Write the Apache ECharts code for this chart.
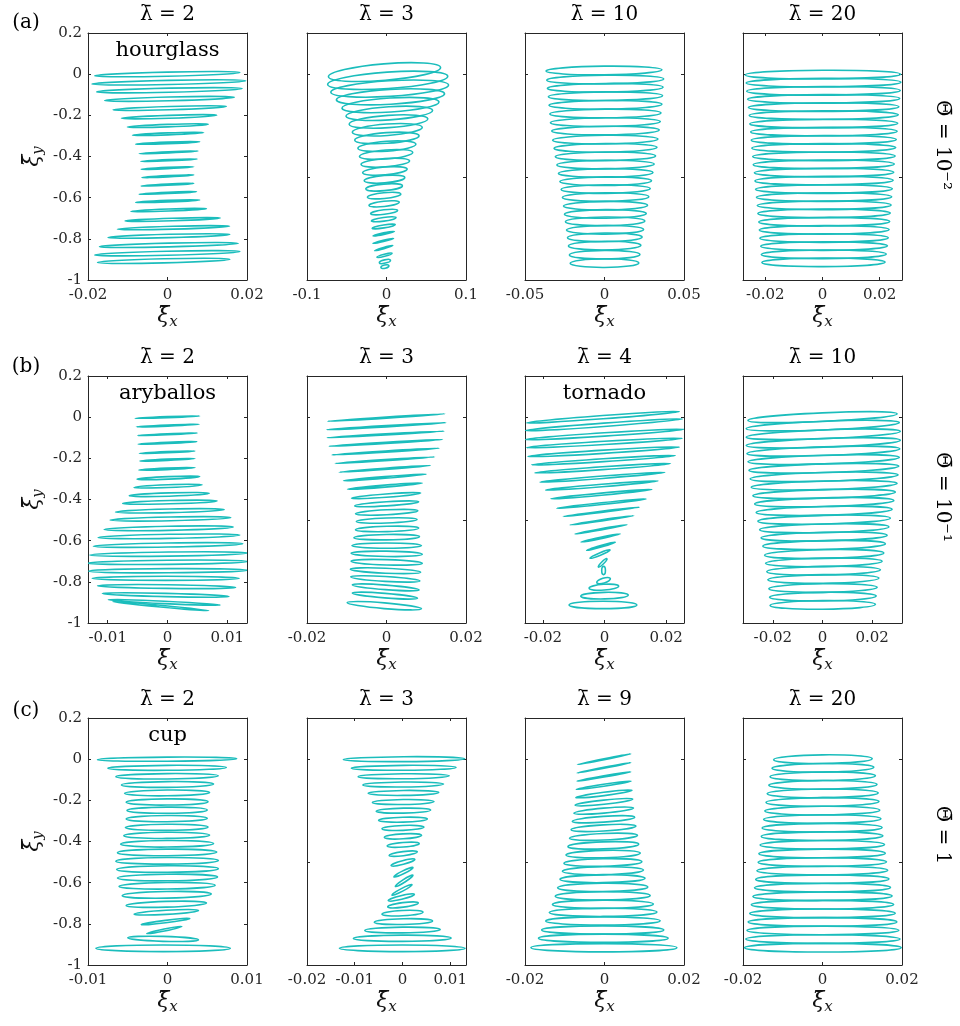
<!DOCTYPE html>
<html><head><meta charset="utf-8">
<script src="https://cdn.jsdelivr.net/npm/echarts@6/dist/echarts.min.js"></script>
<style>html,body{margin:0;padding:0;background:#fff}#c{width:960px;height:1026px}</style>
</head><body><div id="c"></div>
<script>
// Each loop: [yCenter, xLeft, xRight, halfHeight, tilt(yRight - yLeft)]
const a1 = [
[0.000,-0.0183,0.0182,0.010,0.016],[-0.040,-0.0190,0.0197,0.010,0.016],[-0.078,-0.0178,0.0188,0.010,0.016],
[-0.120,-0.0158,0.0168,0.009,0.016],[-0.165,-0.0137,0.0148,0.008,0.016],[-0.207,-0.0116,0.0124,0.007,0.015],
[-0.250,-0.0101,0.0103,0.006,0.014],[-0.290,-0.0088,0.0091,0.005,0.013],[-0.334,-0.0080,0.0081,0.004,0.012],
[-0.380,-0.0071,0.0077,0.003,0.012],[-0.418,-0.0067,0.0075,0.003,0.012],[-0.456,-0.0066,0.0066,0.003,0.012],
[-0.496,-0.0064,0.0066,0.003,0.012],[-0.537,-0.0066,0.0066,0.003,0.012],[-0.577,-0.0071,0.0073,0.003,0.012],
[-0.617,-0.0080,0.0081,0.004,0.012],[-0.660,-0.0092,0.0098,0.005,0.013],[-0.706,-0.0107,0.0133,0.006,0.014],
[-0.746,-0.0126,0.0156,0.007,0.015],[-0.786,-0.0150,0.0157,0.008,0.015],[-0.830,-0.0171,0.0178,0.009,0.016],
[-0.870,-0.0183,0.0182,0.010,0.016],[-0.907,-0.0176,0.0157,0.010,0.016]];
const a2 = [
[0.010,-0.073,0.068,0.040,0.045],[-0.030,-0.074,0.077,0.040,0.040],[-0.070,-0.070,0.078,0.038,0.035],
[-0.110,-0.063,0.073,0.036,0.030],[-0.150,-0.056,0.066,0.034,0.030],[-0.190,-0.051,0.058,0.032,0.028],
[-0.230,-0.047,0.052,0.030,0.026],[-0.270,-0.043,0.045,0.028,0.024],[-0.310,-0.040,0.041,0.026,0.022],
[-0.350,-0.036,0.037,0.024,0.020],[-0.390,-0.034,0.033,0.022,0.020],[-0.430,-0.032,0.029,0.020,0.018],
[-0.470,-0.030,0.026,0.019,0.018],[-0.510,-0.028,0.023,0.018,0.016],[-0.550,-0.026,0.020,0.016,0.016],
[-0.590,-0.024,0.018,0.014,0.016],[-0.630,-0.022,0.016,0.013,0.016],[-0.670,-0.020,0.014,0.011,0.016],
[-0.705,-0.019,0.012,0.009,0.016],[-0.740,-0.018,0.011,0.007,0.018],[-0.775,-0.017,0.010,0.004,0.022],
[-0.810,-0.017,0.009,0.003,0.025],[-0.845,-0.015,0.008,0.003,0.025],[-0.880,-0.012,0.007,0.005,0.020],
[-0.910,-0.009,0.005,0.008,0.012],[-0.935,-0.007,0.003,0.008,0.010]];
const a3 = [
[0.018,-0.0368,0.0361,0.021,0.006],[-0.026,-0.0363,0.0372,0.021,0.006],[-0.066,-0.0359,0.0368,0.021,0.006],
[-0.107,-0.0353,0.0365,0.021,0.005],[-0.149,-0.0349,0.0361,0.021,0.005],[-0.191,-0.0344,0.0355,0.021,0.005],
[-0.233,-0.0340,0.0351,0.021,0.005],[-0.274,-0.0332,0.0344,0.021,0.005],[-0.318,-0.0326,0.0336,0.021,0.005],
[-0.358,-0.0317,0.0330,0.021,0.005],[-0.399,-0.0309,0.0321,0.021,0.004],[-0.439,-0.0300,0.0313,0.021,0.004],
[-0.480,-0.0290,0.0305,0.021,0.004],[-0.520,-0.0281,0.0296,0.021,0.004],[-0.558,-0.0273,0.0288,0.021,0.004],
[-0.597,-0.0265,0.0279,0.021,0.004],[-0.639,-0.0258,0.0271,0.021,0.004],[-0.679,-0.0252,0.0263,0.021,0.003],
[-0.715,-0.0246,0.0254,0.021,0.003],[-0.756,-0.0239,0.0246,0.021,0.003],[-0.793,-0.0233,0.0237,0.021,0.003],
[-0.833,-0.0227,0.0229,0.021,0.003],[-0.877,-0.0221,0.0223,0.021,0.002],[-0.918,-0.0216,0.0216,0.021,0.002]];
const a4 = [
[-0.002,-0.0270,0.0273,0.021,0.004],[-0.041,-0.0267,0.0274,0.021,0.004],[-0.081,-0.0265,0.0272,0.021,0.004],
[-0.120,-0.0262,0.0270,0.021,0.004],[-0.160,-0.0259,0.0267,0.021,0.004],[-0.199,-0.0256,0.0265,0.021,0.003],
[-0.240,-0.0254,0.0263,0.021,0.003],[-0.279,-0.0251,0.0261,0.021,0.003],[-0.319,-0.0249,0.0258,0.021,0.003],
[-0.358,-0.0247,0.0256,0.021,0.003],[-0.399,-0.0244,0.0254,0.021,0.003],[-0.438,-0.0242,0.0251,0.021,0.003],
[-0.478,-0.0238,0.0249,0.021,0.003],[-0.517,-0.0236,0.0247,0.021,0.003],[-0.558,-0.0234,0.0244,0.021,0.003],
[-0.597,-0.0231,0.0242,0.021,0.003],[-0.637,-0.0228,0.0240,0.021,0.003],[-0.676,-0.0226,0.0237,0.021,0.002],
[-0.717,-0.0223,0.0235,0.021,0.002],[-0.756,-0.0221,0.0233,0.021,0.002],[-0.796,-0.0219,0.0230,0.021,0.002],
[-0.835,-0.0216,0.0227,0.021,0.002],[-0.875,-0.0214,0.0223,0.021,0.002],[-0.914,-0.0212,0.0219,0.021,0.002]];
const b1 = [
[0.000,-0.0054,0.0054,0.002,0.012],[-0.041,-0.0052,0.0053,0.002,0.012],[-0.083,-0.0050,0.0050,0.002,0.012],
[-0.125,-0.0049,0.0049,0.002,0.012],[-0.170,-0.0047,0.0046,0.003,0.012],[-0.207,-0.0046,0.0046,0.003,0.012],
[-0.251,-0.0048,0.0046,0.004,0.012],[-0.295,-0.0051,0.0054,0.006,0.012],[-0.335,-0.0056,0.0058,0.007,0.012],
[-0.376,-0.0064,0.0070,0.008,0.012],[-0.413,-0.0075,0.0083,0.008,0.012],[-0.455,-0.0087,0.0095,0.009,0.012],
[-0.494,-0.0096,0.0106,0.009,0.012],[-0.540,-0.0106,0.0110,0.010,0.012],[-0.579,-0.0116,0.0121,0.010,0.012],
[-0.621,-0.0124,0.0126,0.010,0.012],[-0.665,-0.0130,0.0134,0.010,0.010],[-0.705,-0.0133,0.0134,0.010,0.008],
[-0.746,-0.0132,0.0134,0.010,0.004],[-0.783,-0.0126,0.0120,0.010,0.000],[-0.823,-0.0117,0.0114,0.009,-0.008],
[-0.864,-0.0109,0.0103,0.008,-0.015],[-0.900,-0.0099,0.0088,0.006,-0.025],[-0.918,-0.0092,0.0069,0.004,-0.045]];
const b2 = [
[-0.002,-0.0148,0.0147,0.003,0.036],[-0.044,-0.0150,0.0149,0.003,0.034],[-0.084,-0.0149,0.0145,0.003,0.032],
[-0.125,-0.0144,0.0141,0.003,0.032],[-0.167,-0.0137,0.0132,0.003,0.032],[-0.209,-0.0129,0.0121,0.003,0.032],
[-0.251,-0.0119,0.0110,0.003,0.032],[-0.293,-0.0108,0.0100,0.004,0.032],[-0.335,-0.0098,0.0090,0.005,0.030],
[-0.381,-0.0088,0.0086,0.008,0.025],[-0.421,-0.0080,0.0081,0.010,0.020],[-0.462,-0.0078,0.0079,0.012,0.015],
[-0.502,-0.0076,0.0077,0.012,0.010],[-0.543,-0.0078,0.0081,0.013,0.008],[-0.583,-0.0082,0.0083,0.013,0.005],
[-0.624,-0.0087,0.0088,0.013,0.000],[-0.664,-0.0089,0.0090,0.013,-0.005],[-0.705,-0.0089,0.0090,0.013,-0.010],
[-0.746,-0.0091,0.0086,0.012,-0.015],[-0.786,-0.0090,0.0084,0.012,-0.020],[-0.827,-0.0086,0.0082,0.011,-0.025],
[-0.867,-0.0086,0.0078,0.011,-0.025],[-0.916,-0.0099,0.0088,0.014,-0.030]];
const b3 = [
[0.000,-0.0253,0.0243,0.008,0.055],[-0.037,-0.0258,0.0254,0.008,0.057],[-0.084,-0.0258,0.0258,0.008,0.050],
[-0.125,-0.0253,0.0252,0.008,0.045],[-0.168,-0.0248,0.0243,0.008,0.045],[-0.209,-0.0237,0.0230,0.007,0.045],
[-0.248,-0.0226,0.0214,0.007,0.045],[-0.292,-0.0209,0.0196,0.006,0.048],[-0.332,-0.0191,0.0174,0.006,0.045],
[-0.374,-0.0174,0.0154,0.005,0.045],[-0.420,-0.0155,0.0135,0.004,0.045],[-0.460,-0.0134,0.0113,0.003,0.045],
[-0.501,-0.0112,0.0095,0.003,0.045],[-0.545,-0.0096,0.0073,0.003,0.045],[-0.587,-0.0076,0.0051,0.003,0.040],
[-0.627,-0.0058,0.0035,0.004,0.040],[-0.665,-0.0047,0.0018,0.006,0.040],[-0.708,-0.0020,0.0008,0.006,0.040],
[-0.745,-0.0009,0.0003,0.020,0.000],[-0.794,-0.0025,0.0019,0.012,0.020],[-0.826,-0.0050,0.0046,0.014,0.010],
[-0.867,-0.0077,0.0077,0.016,0.005],[-0.912,-0.0115,0.0105,0.018,0.000]];
const b4 = [
[0.000,-0.0300,0.0300,0.021,0.032],[-0.041,-0.0307,0.0309,0.021,0.030],[-0.083,-0.0307,0.0313,0.021,0.028],
[-0.125,-0.0307,0.0313,0.021,0.026],[-0.165,-0.0304,0.0311,0.021,0.024],[-0.206,-0.0300,0.0309,0.021,0.022],
[-0.248,-0.0296,0.0307,0.021,0.021],[-0.290,-0.0291,0.0304,0.021,0.020],[-0.331,-0.0287,0.0300,0.021,0.019],
[-0.373,-0.0280,0.0293,0.021,0.018],[-0.413,-0.0273,0.0287,0.021,0.017],[-0.455,-0.0267,0.0280,0.021,0.016],
[-0.498,-0.0260,0.0273,0.021,0.015],[-0.540,-0.0253,0.0267,0.021,0.014],[-0.580,-0.0247,0.0260,0.021,0.013],
[-0.621,-0.0240,0.0253,0.021,0.012],[-0.665,-0.0233,0.0247,0.021,0.011],[-0.705,-0.0229,0.0240,0.021,0.010],
[-0.746,-0.0224,0.0233,0.021,0.009],[-0.786,-0.0220,0.0227,0.021,0.008],[-0.830,-0.0216,0.0220,0.021,0.007],
[-0.872,-0.0213,0.0216,0.021,0.006],[-0.912,-0.0211,0.0213,0.021,0.005]];
const c1 = [
[0.000,-0.0088,0.0087,0.010,0.005],[-0.042,-0.0075,0.0074,0.012,0.004],[-0.083,-0.0065,0.0064,0.013,0.004],
[-0.123,-0.0058,0.0058,0.014,0.004],[-0.164,-0.0054,0.0053,0.014,0.004],[-0.208,-0.0052,0.0051,0.015,0.003],
[-0.248,-0.0051,0.0050,0.015,0.003],[-0.289,-0.0052,0.0050,0.015,0.003],[-0.331,-0.0053,0.0051,0.015,0.003],
[-0.370,-0.0055,0.0053,0.015,0.003],[-0.411,-0.0059,0.0058,0.016,0.003],[-0.453,-0.0063,0.0062,0.016,0.003],
[-0.494,-0.0065,0.0064,0.016,0.003],[-0.534,-0.0064,0.0064,0.016,0.004],[-0.575,-0.0063,0.0063,0.016,0.005],
[-0.615,-0.0061,0.0060,0.016,0.006],[-0.659,-0.0057,0.0055,0.016,0.008],[-0.705,-0.0052,0.0049,0.014,0.012],
[-0.744,-0.0042,0.0039,0.010,0.018],[-0.789,-0.0033,0.0028,0.006,0.030],[-0.830,-0.0026,0.0018,0.005,0.035],
[-0.873,-0.0050,0.0039,0.012,-0.010],[-0.919,-0.0090,0.0079,0.016,0.000]];
const c2 = [
[0.000,-0.0124,0.0130,0.012,0.004],[-0.042,-0.0107,0.0112,0.012,0.004],[-0.083,-0.0093,0.0098,0.012,0.004],
[-0.123,-0.0083,0.0086,0.012,0.004],[-0.164,-0.0072,0.0076,0.012,0.004],[-0.208,-0.0063,0.0066,0.012,0.004],
[-0.250,-0.0055,0.0059,0.012,0.005],[-0.294,-0.0050,0.0052,0.012,0.006],[-0.334,-0.0043,0.0045,0.012,0.008],
[-0.375,-0.0038,0.0040,0.012,0.010],[-0.416,-0.0032,0.0035,0.011,0.012],[-0.459,-0.0028,0.0031,0.010,0.018],
[-0.502,-0.0024,0.0026,0.009,0.030],[-0.549,-0.0018,0.0022,0.007,0.045],[-0.591,-0.0015,0.0022,0.007,0.055],
[-0.635,-0.0022,0.0020,0.007,0.050],[-0.672,-0.0030,0.0025,0.009,0.030],[-0.708,-0.0031,0.0033,0.011,0.020],
[-0.748,-0.0043,0.0043,0.013,0.010],[-0.789,-0.0059,0.0063,0.014,0.006],[-0.830,-0.0079,0.0079,0.014,0.004],
[-0.870,-0.0103,0.0102,0.015,0.003],[-0.919,-0.0132,0.0131,0.016,0.000]];
const c3 = [
[0.000,-0.0068,0.0066,0.002,0.052],[-0.042,-0.0069,0.0066,0.002,0.050],[-0.084,-0.0069,0.0066,0.003,0.045],
[-0.127,-0.0071,0.0067,0.005,0.040],[-0.169,-0.0072,0.0069,0.008,0.035],[-0.209,-0.0074,0.0071,0.010,0.030],
[-0.250,-0.0077,0.0073,0.012,0.025],[-0.292,-0.0081,0.0076,0.014,0.020],[-0.334,-0.0084,0.0079,0.015,0.018],
[-0.377,-0.0088,0.0083,0.016,0.015],[-0.419,-0.0092,0.0086,0.017,0.012],[-0.461,-0.0097,0.0090,0.018,0.010],
[-0.502,-0.0102,0.0094,0.018,0.008],[-0.542,-0.0106,0.0098,0.019,0.006],[-0.581,-0.0112,0.0102,0.019,0.005],
[-0.623,-0.0118,0.0109,0.020,0.004],[-0.664,-0.0124,0.0115,0.020,0.003],[-0.705,-0.0131,0.0123,0.020,0.002],
[-0.744,-0.0139,0.0132,0.020,0.002],[-0.786,-0.0148,0.0140,0.020,0.001],[-0.830,-0.0158,0.0149,0.020,0.000],
[-0.870,-0.0166,0.0160,0.020,0.000],[-0.916,-0.0185,0.0182,0.020,0.000]];
const c4 = [
[0.000,-0.0123,0.0125,0.021,0.005],[-0.042,-0.0127,0.0129,0.021,0.005],[-0.083,-0.0132,0.0133,0.021,0.005],
[-0.125,-0.0135,0.0137,0.021,0.004],[-0.166,-0.0139,0.0140,0.021,0.004],[-0.208,-0.0142,0.0142,0.021,0.004],
[-0.250,-0.0145,0.0144,0.021,0.004],[-0.291,-0.0148,0.0147,0.021,0.003],[-0.333,-0.0152,0.0150,0.021,0.003],
[-0.374,-0.0154,0.0152,0.021,0.003],[-0.416,-0.0157,0.0156,0.021,0.003],[-0.458,-0.0160,0.0158,0.021,0.003],
[-0.500,-0.0162,0.0161,0.021,0.002],[-0.541,-0.0165,0.0164,0.021,0.002],[-0.583,-0.0168,0.0167,0.021,0.002],
[-0.624,-0.0171,0.0171,0.021,0.002],[-0.666,-0.0175,0.0175,0.021,0.002],[-0.707,-0.0179,0.0179,0.021,0.001],
[-0.749,-0.0183,0.0183,0.021,0.001],[-0.791,-0.0187,0.0187,0.021,0.001],[-0.832,-0.0190,0.0192,0.021,0.001],
[-0.874,-0.0193,0.0195,0.021,0.000],[-0.916,-0.0196,0.0198,0.021,0.000]];

const panelLoops = [a1, a2, a3, a4, b1, b2, b3, b4, c1, c2, c3, c4];
const xMins = [-0.02, -0.1, -0.05, -0.0278, -0.0133, -0.02, -0.0258, -0.032, -0.01, -0.02, -0.02, -0.02];
const xMaxs = [0.02, 0.1, 0.05, 0.0278, 0.0133, 0.02, 0.0258, 0.032, 0.01, 0.0133, 0.02, 0.02];
const xTickValues = [
  [-0.02, 0, 0.02], [-0.1, 0, 0.1], [-0.05, 0, 0.05], [-0.02, 0, 0.02],
  [-0.01, 0, 0.01], [-0.02, 0, 0.02], [-0.02, 0, 0.02], [-0.02, 0, 0.02],
  [-0.01, 0, 0.01], [-0.02, -0.01, 0, 0.01], [-0.02, 0, 0.02], [-0.02, 0, 0.02]];
const yMin = -1, yMax = 0.2;
const yTickLabeled = [0.2, 0, -0.2, -0.4, -0.6, -0.8, -1];
const yTickPlain = [0, -0.5];
const lambdaValues = [2, 3, 10, 20, 2, 3, 4, 10, 2, 3, 9, 20];
const rowLetters = ['(a)', '(b)', '(c)'];
const thetaLabels = ['Θ\u0304 = 10⁻²', 'Θ\u0304 = 10⁻¹', 'Θ\u0304 = 1'];
const shapeNames = [[0, 'hourglass'], [4, 'aryballos'], [6, 'tornado'], [8, 'cup']];

// layout
const GL = [88, 307, 525, 743], GT = [33, 376, 718], GW = 159, GH = 247;
const LINE = '#1bbdbc', AX = '#262626', FONT = 'DejaVu Serif';

function fmt(v) { const r = +(+v).toFixed(4); return r === 0 ? '0' : String(r); }

function renderItem(params, api) {
  const y = api.value(0), xl = api.value(1), xr = api.value(2), hh = api.value(3), tilt = api.value(4);
  const c = api.coord([(xl + xr) / 2, y]);
  const pl = api.coord([xl, y - tilt / 2]);
  const pr = api.coord([xr, y + tilt / 2]);
  const dx = pr[0] - pl[0], dy = pr[1] - pl[1];
  const rx = Math.sqrt(dx * dx + dy * dy) / 2;
  const pt = api.coord([(xl + xr) / 2, y + hh]);
  const ry = Math.max(Math.abs(c[1] - pt[1]), 0.5);
  return {
    type: 'ellipse', x: c[0], y: c[1], rotation: Math.atan2(-dy, dx),
    shape: { cx: 0, cy: 0, rx: rx, ry: ry },
    style: { fill: 'none', stroke: LINE, lineWidth: 1.6 }
  };
}

const grids = [], xAxes = [], yAxes = [], series = [], graphics = [];
const axisLineCfg = { show: true, onZero: false, lineStyle: { color: AX, width: 1 } };
const xName = '{v|ξ\u0304}{s|x}';
const nameRich = {
  v: { fontFamily: FONT, fontStyle: 'italic', fontSize: 22, color: '#111' },
  s: { fontFamily: FONT, fontStyle: 'italic', fontSize: 15, color: '#111', padding: [12, 0, 0, 0] }
};
for (let k = 0; k < 12; k++) {
  const r = Math.floor(k / 4), c = k % 4;
  grids.push({ left: GL[c], top: GT[r], width: GW, height: GH, containLabel: false });
  const tickCfg = (vals) => ({ show: true, inside: true, length: 3, customValues: vals, lineStyle: { color: AX, width: 1 } });
  xAxes.push({
    type: 'value', gridIndex: k, position: 'bottom', min: xMins[k], max: xMaxs[k],
    axisLine: axisLineCfg, axisTick: tickCfg(xTickValues[k]), splitLine: { show: false },
    axisLabel: { show: true, customValues: xTickValues[k], formatter: fmt, fontFamily: FONT, fontSize: 15, color: AX, margin: 8 },
    name: xName, nameLocation: 'middle', nameGap: 23, nameTextStyle: { rich: nameRich }
  });
  xAxes.push({
    type: 'value', gridIndex: k, position: 'top', min: xMins[k], max: xMaxs[k],
    axisLine: axisLineCfg, axisTick: tickCfg(xTickValues[k]), splitLine: { show: false }, axisLabel: { show: false }
  });
  const yVals = c === 0 ? yTickLabeled : yTickPlain;
  const yLeft = {
    type: 'value', gridIndex: k, position: 'left', min: yMin, max: yMax,
    axisLine: axisLineCfg, axisTick: tickCfg(yVals), splitLine: { show: false },
    axisLabel: c === 0 ? { show: true, customValues: yTickLabeled, formatter: fmt, fontFamily: FONT, fontSize: 15, color: AX, margin: 6 } : { show: false }
  };
  if (c === 0) {
    yLeft.name = '{v|ξ\u0304}{s|y}';
    yLeft.nameLocation = 'middle';
    yLeft.nameRotate = 90;
    yLeft.nameGap = 42;
    yLeft.nameTextStyle = { rich: nameRich };
  }
  yAxes.push(yLeft);
  yAxes.push({
    type: 'value', gridIndex: k, position: 'right', min: yMin, max: yMax,
    axisLine: axisLineCfg, axisTick: tickCfg(yVals), splitLine: { show: false }, axisLabel: { show: false }
  });
  series.push({
    type: 'custom', coordinateSystem: 'cartesian2d', xAxisIndex: 2 * k, yAxisIndex: 2 * k,
    clip: true, silent: true, renderItem: renderItem, encode: { x: [1, 2], y: 0 }, data: panelLoops[k]
  });
  graphics.push({
    type: 'text', x: GL[c] + GW / 2, y: GT[r] - 18,
    style: { text: 'λ\u0304 = ' + lambdaValues[k], align: 'center', verticalAlign: 'middle',
      fontFamily: FONT, fontSize: 20, fill: '#000' }
  });
}
const letterY = [23, 367, 711];
const thetaY = [145, 497, 835];
for (let r = 0; r < 3; r++) {
  graphics.push({ type: 'text', x: 26, y: letterY[r], style: { text: rowLetters[r], align: 'center', verticalAlign: 'middle', fontFamily: FONT, fontSize: 20, fill: '#000' } });
  graphics.push({ type: 'text', x: 942, y: thetaY[r], rotation: -Math.PI / 2,
    style: { text: thetaLabels[r], align: 'center', verticalAlign: 'middle', fontFamily: FONT, fontSize: 20, fill: '#000' } });
}
const nameYOffset = 18;
for (const [k, name] of shapeNames) {
  const r = Math.floor(k / 4), c = k % 4;
  graphics.push({ type: 'text', x: GL[c] + GW / 2, y: GT[r] + nameYOffset,
    style: { text: name, align: 'center', verticalAlign: 'middle', fontFamily: FONT, fontSize: 21, fill: '#000' } });
}

const chart = echarts.init(document.getElementById('c'), null, { renderer: 'canvas' });
chart.setOption({
  backgroundColor: '#fff', animation: false,
  textStyle: { fontFamily: FONT },
  grid: grids, xAxis: xAxes, yAxis: yAxes, series: series, graphic: graphics
});
</script></body></html>
